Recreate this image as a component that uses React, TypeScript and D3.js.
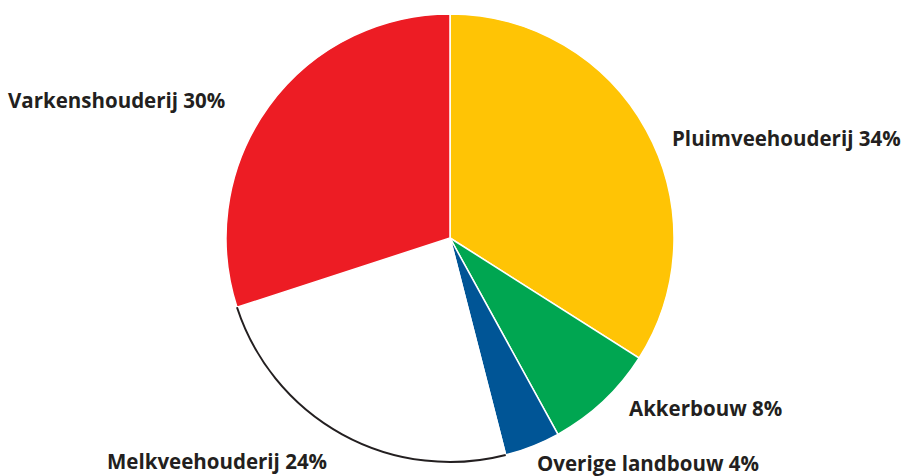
import React from "react";
import * as d3 from "d3";

const categories = ["Pluimveehouderij", "Akkerbouw", "Overige landbouw", "Melkveehouderij", "Varkenshouderij"];
const values = [34, 8, 4, 24, 30];
const colors = ["#FFC405", "#00A651", "#005596", "#FFFFFF", "#ED1C24"];

// label anchor (start x, baseline y) in px
const labelPos: [number, number][] = [
  [672, 146],
  [629, 416],
  [537, 471],
  [107, 469],
  [8, 108],
];

const W = 905;
const H = 476;
const cx = 450;
const cy = 238;
const R = 224;

export default function App() {
  const pie = d3.pie<number>().sort(null).value((d) => d)(values);
  const arc = d3.arc<d3.PieArcDatum<number>>().innerRadius(0).outerRadius(R);
  return (
    <svg width={W} height={H} style={{ position: "absolute", left: 0, top: 0 }}>
      <rect width={W} height={H} fill="#fff" />
      <g transform={`translate(${cx},${cy})`}>
        {pie.map((p, i) => (
          <path key={i} d={arc(p) || ""} fill={colors[i]} stroke="#fff" strokeWidth={1.5} />
        ))}
        {pie.map((p, i) =>
          colors[i] === "#FFFFFF" ? (
            <path
              key={"o" + i}
              d={d3.arc()({ innerRadius: R, outerRadius: R, startAngle: p.startAngle, endAngle: p.endAngle }) || ""}
              fill="none"
              stroke="#231F20"
              strokeWidth={2}
            />
          ) : null
        )}
      </g>
      {categories.map((c, i) => (
        <text
          key={c}
          x={labelPos[i][0]}
          y={labelPos[i][1]}
          fontFamily="'Open Sans', sans-serif"
          fontWeight={700}
          fontSize={20.5}
          fill="#231F20"
        >
          {`${c} ${values[i]}%`}
        </text>
      ))}
    </svg>
  );
}
